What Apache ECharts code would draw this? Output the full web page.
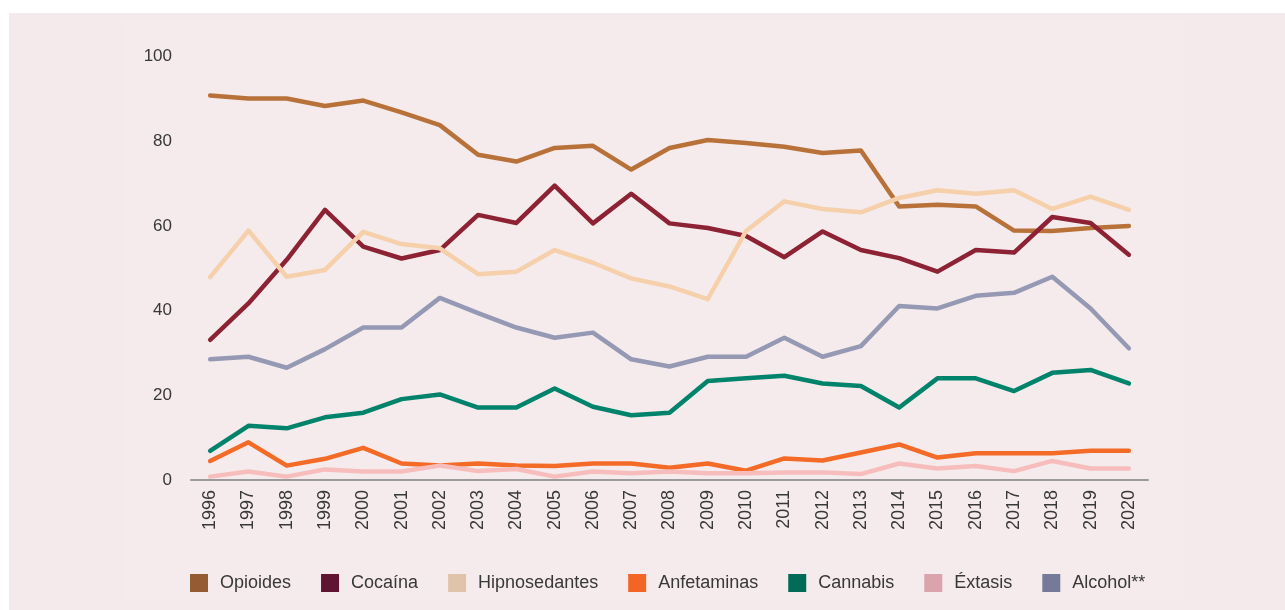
<!DOCTYPE html>
<html>
<head>
<meta charset="utf-8">
<script src="https://cdn.jsdelivr.net/npm/echarts@6/dist/echarts.min.js"></script>
<style>
html,body{margin:0;padding:0;background:#ffffff;}
#chart{width:1285px;height:610px;}
</style>
</head>
<body>
<div id="chart"></div>
<script>
const years = ['1996','1997','1998','1999','2000','2001','2002','2003','2004','2005','2006','2007','2008','2009','2010','2011','2012','2013','2014','2015','2016','2017','2018','2019','2020'];
const yTicks = [0, 20, 40, 60, 80, 100];

const opioides      = [90.8, 90.1, 90.1, 88.3, 89.6, 86.8, 83.8, 76.8, 75.2, 78.4, 78.9, 73.3, 78.4, 80.3, 79.6, 78.7, 77.2, 77.8, 64.6, 65.0, 64.6, 58.9, 58.8, 59.5, 60.0];
const cocaina       = [33.1, 41.7, 52.0, 63.8, 55.1, 52.3, 54.3, 62.6, 60.7, 69.5, 60.6, 67.6, 60.6, 59.5, 57.6, 52.6, 58.7, 54.3, 52.4, 49.2, 54.3, 53.7, 62.1, 60.7, 53.2];
const hipnosedantes = [47.9, 58.9, 48.0, 49.6, 58.6, 55.7, 54.7, 48.6, 49.2, 54.3, 51.3, 47.6, 45.7, 42.7, 58.8, 65.8, 64.0, 63.2, 66.6, 68.4, 67.6, 68.4, 64.0, 66.9, 63.8];
const anfetaminas   = [4.5, 8.9, 3.4, 5.0, 7.6, 3.9, 3.4, 3.9, 3.4, 3.3, 3.9, 3.9, 2.9, 3.9, 2.2, 5.1, 4.6, 6.5, 8.4, 5.3, 6.3, 6.3, 6.3, 6.9, 6.9];
const cannabis      = [6.9, 12.8, 12.2, 14.8, 15.9, 19.1, 20.2, 17.1, 17.1, 21.6, 17.3, 15.3, 15.9, 23.4, 24.0, 24.6, 22.8, 22.2, 17.1, 24.0, 24.0, 21.0, 25.3, 26.0, 22.8];
const extasis       = [0.8, 2.0, 0.8, 2.5, 2.0, 2.0, 3.4, 2.1, 2.6, 0.8, 2.0, 1.6, 2.0, 1.6, 1.6, 1.8, 1.8, 1.4, 3.9, 2.7, 3.3, 2.1, 4.5, 2.7, 2.7];
const alcohol       = [28.5, 29.1, 26.5, 30.9, 36.0, 36.0, 43.0, 39.4, 36.0, 33.6, 34.8, 28.5, 26.8, 29.1, 29.1, 33.6, 29.1, 31.6, 41.1, 40.5, 43.5, 44.2, 48.0, 40.5, 31.1];

const seriesNames  = ['Opioides', 'Cocaína', 'Hipnosedantes', 'Anfetaminas', 'Cannabis', 'Éxtasis', 'Alcohol**'];
const seriesData   = [opioides, cocaina, hipnosedantes, anfetaminas, cannabis, extasis, alcohol];
const lineColors   = ['#b87239', '#8c2233', '#f5d0ab', '#f36b26', '#00836b', '#f7bdbd', '#9599b4'];
const legendColors = ['#945c33', '#5f1532', '#dfc3aa', '#f26524', '#006c58', '#d9a4ab', '#747a97'];

const FONT = '"Liberation Sans", Arial, sans-serif';

const chart = echarts.init(document.getElementById('chart'), null, {renderer: 'canvas'});
chart.setOption({
  backgroundColor: '#ffffff',
  animation: false,
  graphic: [
    {type: 'rect', z: -10, shape: {x: 9, y: 13, width: 1276, height: 597}, style: {fill: '#f4e9eb'}},
    {type: 'rect', z: -9, shape: {x: 122, y: 20, width: 1061, height: 580}, style: {fill: '#f5ebec'}}
  ],
  grid: {left: 191, right: 137, top: 56.5, bottom: 130, containLabel: false},
  legend: {
    left: 185, top: 569,
    itemWidth: 18, itemHeight: 18, itemGap: 30,
    icon: 'rect',
    textStyle: {fontFamily: FONT, fontSize: 18, color: '#383838', padding: [0, 0, 0, 7]},
    data: seriesNames.map((n, i) => ({name: n, itemStyle: {color: legendColors[i]}}))
  },
  xAxis: {
    type: 'category',
    data: years,
    boundaryGap: true,
    axisLine: {show: true, lineStyle: {color: '#9a9a9a', width: 2}},
    axisTick: {show: false},
    axisLabel: {rotate: 90, margin: 10, fontFamily: FONT, fontSize: 18, color: '#383838', interval: 0}
  },
  yAxis: {
    type: 'value',
    min: yTicks[0], max: yTicks[yTicks.length - 1], interval: 20,
    axisLine: {show: false},
    axisTick: {show: false},
    splitLine: {show: false},
    axisLabel: {margin: 19, fontFamily: FONT, fontSize: 17, color: '#383838'}
  },
  series: seriesNames.map((n, i) => ({
    name: n,
    type: 'line',
    data: seriesData[i],
    showSymbol: false,
    symbol: 'none',
    lineStyle: {color: lineColors[i], width: 4.5, cap: 'round', join: 'round'},
    itemStyle: {color: legendColors[i]},
    emphasis: {disabled: true}
  }))
});
</script>
</body>
</html>
